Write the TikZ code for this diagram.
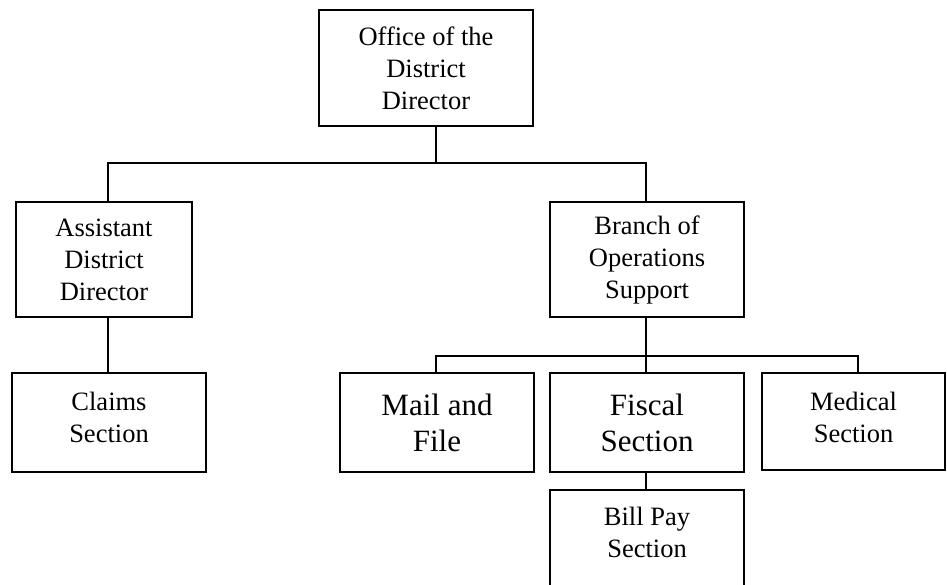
\documentclass[tikz,border=0pt]{standalone}
\usepackage{fontspec}
\setmainfont{Liberation Serif}
\begin{document}
\begin{tikzpicture}[x=1pt,y=-1pt,
  box/.style={draw, line width=2.2pt, rectangle, align=center, inner sep=0pt,
    font=\fontsize{26.5}{32}\selectfont},
  bigtext/.style={font=\fontsize{31}{36}\selectfont},
  conn/.style={line width=2.2pt}]
\useasboundingbox (0,0) rectangle (947,584);
% boxes
\node[box, minimum width=214pt, minimum height=116pt] (top) at (426,68) {Office of the\\District\\Director};
\node[box, minimum width=176pt, minimum height=115pt] (assist) at (104,259.5) {Assistant\\District\\Director};
\node[box, minimum width=194pt, minimum height=115pt] (branch) at (647,259.5) {Branch of\\Operations\\Support};
\node[box, minimum width=194pt, minimum height=99pt, text depth=10pt] (claims) at (109,422.5) {Claims\\Section};
\node[box, bigtext, minimum width=194pt, minimum height=99pt] (mail) at (437,422.5) {Mail and\\File};
\node[box, bigtext, minimum width=194pt, minimum height=99pt] (fiscal) at (647,422.5) {Fiscal\\Section};
\node[box, minimum width=183pt, minimum height=97pt, text depth=8pt] (medical) at (853.5,421.5) {Medical\\Section};
\node[box, minimum width=194pt, minimum height=110pt, text depth=26pt] (bill) at (647,545) {Bill Pay\\Section};
% junctions
\coordinate (bus1) at (436,163);
\coordinate (bus2) at (646,356);
% connectors
\draw[conn] ([xshift=10pt]top.south) -- (bus1);
\draw[conn] ([xshift=4pt]assist.north) |- (bus1);
\draw[conn] ([xshift=-1pt]branch.north) |- (bus1);
\draw[conn] ([xshift=4pt]assist.south) -- ([xshift=4pt]assist.south |- claims.north);
\draw[conn] ([xshift=-1pt]branch.south) -- (bus2);
\draw[conn] ([xshift=-1pt]mail.north) |- (bus2);
\draw[conn] ([xshift=4.5pt]medical.north) |- (bus2);
\draw[conn] ([xshift=-1pt]fiscal.north) -- (bus2);
\draw[conn] ([xshift=-1pt]fiscal.south) -- ([xshift=-1pt]bill.north);
\end{tikzpicture}
\end{document}
